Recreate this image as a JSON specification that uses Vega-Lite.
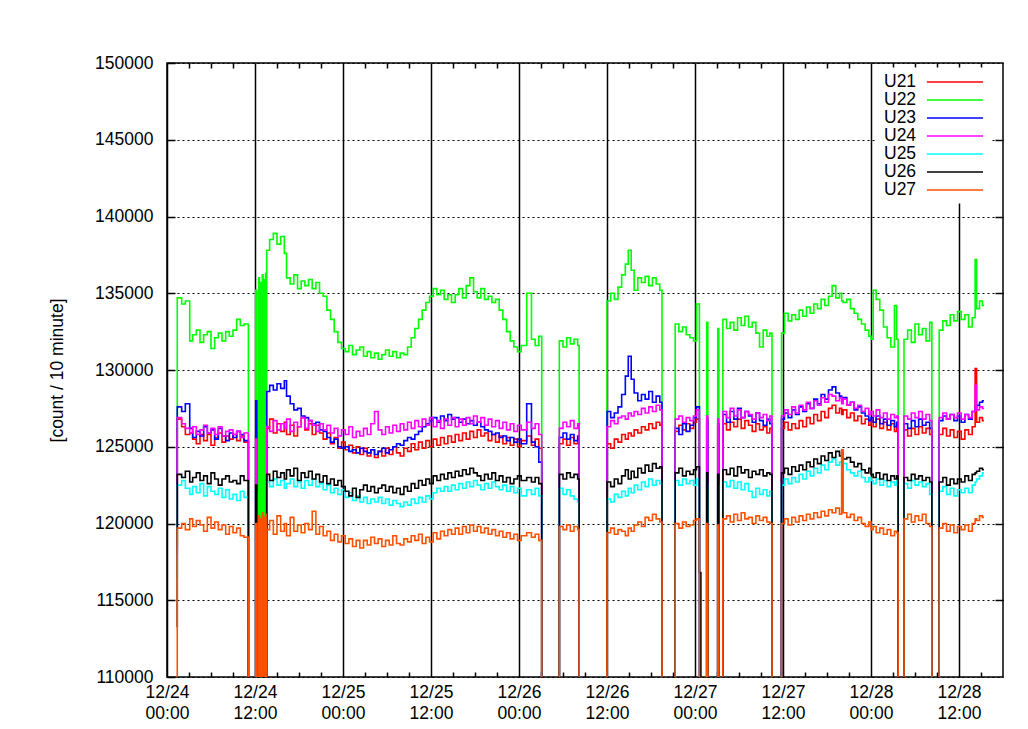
{
"$schema":"https://vega.github.io/schema/vega-lite/v6.json",
"width":836,"height":614,
"autosize":{"type":"none"},
"padding":{"left":167,"top":63,"right":25,"bottom":52},
"background":"white",
"config":{"font":"Liberation Sans","view":{"stroke":"black","strokeWidth":1.5},"axis":{"domain":false,"labelColor":"black","titleColor":"black","labelFontSize":17.5,"titleFontSize":17.5,"titleFontWeight":"normal"}},
"data":{"values":[
{"h":1.3,"U21":118500,"U22":118500,"U23":119700,"U24":118000,"U25":116500,"U26":113300,"U27":0},
{"h":1.4,"U21":126800,"U22":134700,"U23":127600,"U24":126900,"U25":122500,"U26":123200,"U27":119700},
{"h":2.0,"U21":126300,"U22":134300,"U23":127300,"U24":126500,"U25":122800,"U26":123000,"U27":120000},
{"h":2.5,"U21":125800,"U22":134500,"U23":127800,"U24":126200,"U25":122300,"U26":123400,"U27":119600},
{"h":3.1,"U21":125900,"U22":131900,"U23":126200,"U24":125900,"U25":121900,"U26":122700,"U27":120300},
{"h":3.5,"U21":125500,"U22":132300,"U23":125600,"U24":126300,"U25":122400,"U26":123000,"U27":119800},
{"h":4.0,"U21":125200,"U22":132600,"U23":126000,"U24":125800,"U25":122000,"U26":123300,"U27":120200},
{"h":4.5,"U21":125800,"U22":131800,"U23":125700,"U24":126100,"U25":122600,"U26":122800,"U27":119900},
{"h":5.0,"U21":125400,"U22":132300,"U23":126300,"U24":126400,"U25":121800,"U26":123100,"U27":119500},
{"h":5.5,"U21":125800,"U22":132500,"U23":125900,"U24":125900,"U25":122400,"U26":122600,"U27":120400},
{"h":6.0,"U21":125100,"U22":131400,"U23":126100,"U24":126200,"U25":122100,"U26":123300,"U27":119700},
{"h":6.5,"U21":125600,"U22":132100,"U23":125500,"U24":125800,"U25":121900,"U26":122900,"U27":120100},
{"h":7.0,"U21":125900,"U22":132400,"U23":126200,"U24":126300,"U25":122300,"U26":122500,"U27":119600},
{"h":7.5,"U21":125300,"U22":131900,"U23":125700,"U24":125700,"U25":121700,"U26":122900,"U27":119900},
{"h":8.0,"U21":125700,"U22":132500,"U23":125400,"U24":126000,"U25":122200,"U26":123100,"U27":119300},
{"h":8.5,"U21":125500,"U22":132200,"U23":125900,"U24":126100,"U25":121600,"U26":122700,"U27":119800},
{"h":9.0,"U21":125800,"U22":132600,"U23":125600,"U24":125800,"U25":121900,"U26":122800,"U27":119400},
{"h":9.5,"U21":125400,"U22":133300,"U23":126000,"U24":126000,"U25":121500,"U26":122600,"U27":119700},
{"h":10.0,"U21":125700,"U22":132900,"U23":125800,"U24":125600,"U25":122100,"U26":123100,"U27":119200},
{"h":10.5,"U21":125300,"U22":133000,"U23":125400,"U24":125900,"U25":121700,"U26":122800,"U27":119100},
{"h":11.1,"U21":0,"U22":0,"U23":0,"U24":0,"U25":0,"U26":0,"U27":0},
{"h":12.1,"U21":126000,"U22":135200,"U23":128000,"U24":125500,"U25":122000,"U26":122500,"U27":120000},
{"h":12.25,"U21":0,"U22":0,"U23":0,"U24":0,"U25":0,"U26":0,"U27":0},
{"h":12.5,"U21":0,"U22":136000,"U23":0,"U24":0,"U25":0,"U26":0,"U27":120500},
{"h":12.6,"U21":0,"U22":0,"U23":0,"U24":0,"U25":0,"U26":0,"U27":0},
{"h":12.75,"U21":0,"U22":135700,"U23":0,"U24":0,"U25":0,"U26":0,"U27":120300},
{"h":12.85,"U21":0,"U22":0,"U23":0,"U24":0,"U25":0,"U26":0,"U27":0},
{"h":13.0,"U21":0,"U22":136200,"U23":0,"U24":0,"U25":0,"U26":0,"U27":120700},
{"h":13.1,"U21":0,"U22":0,"U23":0,"U24":0,"U25":0,"U26":0,"U27":0},
{"h":13.25,"U21":0,"U22":135900,"U23":0,"U24":0,"U25":0,"U26":0,"U27":120400},
{"h":13.35,"U21":0,"U22":0,"U23":0,"U24":0,"U25":0,"U26":0,"U27":0},
{"h":13.45,"U21":0,"U22":136300,"U23":0,"U24":0,"U25":0,"U26":0,"U27":120600},
{"h":13.52,"U21":0,"U22":0,"U23":0,"U24":0,"U25":0,"U26":0,"U27":0},
{"h":13.6,"U21":126200,"U22":137800,"U23":128600,"U24":126300,"U25":122700,"U26":123200,"U27":119600},
{"h":14.0,"U21":126800,"U22":138500,"U23":129000,"U24":126000,"U25":122400,"U26":122800,"U27":120200},
{"h":14.5,"U21":125900,"U22":138900,"U23":128700,"U24":126700,"U25":122900,"U26":123400,"U27":119300},
{"h":15.0,"U21":126500,"U22":138200,"U23":129100,"U24":126100,"U25":122500,"U26":123000,"U27":120500},
{"h":15.5,"U21":126000,"U22":138700,"U23":128800,"U24":126500,"U25":122800,"U26":123300,"U27":119500},
{"h":16.0,"U21":126600,"U22":137600,"U23":129300,"U24":126200,"U25":122300,"U26":122900,"U27":120000},
{"h":16.3,"U21":125800,"U22":136000,"U23":128300,"U24":126800,"U25":122600,"U26":123500,"U27":119200},
{"h":16.8,"U21":126400,"U22":135600,"U23":127800,"U24":126000,"U25":122900,"U26":123100,"U27":120400},
{"h":17.3,"U21":125700,"U22":136200,"U23":127400,"U24":126600,"U25":122400,"U26":123600,"U27":119500},
{"h":17.8,"U21":126300,"U22":135300,"U23":127500,"U24":126300,"U25":122700,"U26":122800,"U27":119900},
{"h":18.3,"U21":126900,"U22":135800,"U23":127000,"U24":126900,"U25":122300,"U26":123300,"U27":119400},
{"h":18.8,"U21":126100,"U22":135500,"U23":126900,"U24":126200,"U25":122800,"U26":123000,"U27":120000},
{"h":19.3,"U21":126500,"U22":135900,"U23":126700,"U24":126700,"U25":122500,"U26":123400,"U27":119600},
{"h":19.8,"U21":125800,"U22":135300,"U23":126500,"U24":126400,"U25":122900,"U26":122900,"U27":120800},
{"h":20.3,"U21":126400,"U22":135700,"U23":126600,"U24":126000,"U25":122400,"U26":123200,"U27":119300},
{"h":20.8,"U21":125900,"U22":135000,"U23":126100,"U24":126500,"U25":122600,"U26":122700,"U27":119800},
{"h":21.3,"U21":125500,"U22":134800,"U23":126000,"U24":126100,"U25":122200,"U26":123100,"U27":119200},
{"h":21.8,"U21":125900,"U22":133900,"U23":125600,"U24":126400,"U25":122500,"U26":122600,"U27":119500},
{"h":22.3,"U21":125200,"U22":133300,"U23":125300,"U24":125900,"U25":122000,"U26":122900,"U27":118900},
{"h":22.8,"U21":125600,"U22":132500,"U23":125500,"U24":126200,"U25":122300,"U26":122500,"U27":119300},
{"h":23.3,"U21":124900,"U22":131800,"U23":125000,"U24":125700,"U25":121900,"U26":122800,"U27":118800},
{"h":23.8,"U21":125300,"U22":131400,"U23":124900,"U24":126100,"U25":122200,"U26":122400,"U27":119200},
{"h":24.3,"U21":124800,"U22":131200,"U23":125000,"U24":125800,"U25":121700,"U26":122100,"U27":118700},
{"h":24.8,"U21":125100,"U22":131600,"U23":124700,"U24":126300,"U25":122000,"U26":121800,"U27":119000},
{"h":25.3,"U21":124600,"U22":131000,"U23":124800,"U24":125600,"U25":121500,"U26":122300,"U27":118500},
{"h":25.8,"U21":125000,"U22":131300,"U23":124600,"U24":126000,"U25":121800,"U26":121700,"U27":118900},
{"h":26.3,"U21":124500,"U22":131500,"U23":124900,"U24":125700,"U25":121400,"U26":122200,"U27":118400},
{"h":26.8,"U21":124900,"U22":130900,"U23":124700,"U24":126200,"U25":121700,"U26":122500,"U27":118900},
{"h":27.3,"U21":124400,"U22":131200,"U23":124600,"U24":125800,"U25":121300,"U26":122100,"U27":118600},
{"h":27.8,"U21":124800,"U22":130800,"U23":124800,"U24":126500,"U25":121600,"U26":122400,"U27":119100},
{"h":28.3,"U21":124300,"U22":131100,"U23":124500,"U24":127300,"U25":121400,"U26":122000,"U27":118700},
{"h":28.8,"U21":124700,"U22":130700,"U23":124700,"U24":126100,"U25":121700,"U26":122300,"U27":119000},
{"h":29.3,"U21":124400,"U22":131000,"U23":124900,"U24":125800,"U25":121300,"U26":122500,"U27":118500},
{"h":29.8,"U21":124900,"U22":131300,"U23":124600,"U24":126300,"U25":121600,"U26":122100,"U27":118900},
{"h":30.3,"U21":124500,"U22":130900,"U23":124800,"U24":125900,"U25":121200,"U26":122400,"U27":118600},
{"h":30.8,"U21":125000,"U22":131200,"U23":125000,"U24":126400,"U25":121500,"U26":122000,"U27":119200},
{"h":31.3,"U21":124600,"U22":130800,"U23":125200,"U24":126000,"U25":121300,"U26":122300,"U27":118700},
{"h":31.8,"U21":124400,"U22":131100,"U23":125100,"U24":126500,"U25":121100,"U26":121900,"U27":118600},
{"h":32.3,"U21":124900,"U22":131000,"U23":125400,"U24":126100,"U25":121400,"U26":122400,"U27":119000},
{"h":32.8,"U21":124700,"U22":131500,"U23":125600,"U24":126600,"U25":121200,"U26":122100,"U27":118800},
{"h":33.3,"U21":125200,"U22":132100,"U23":125500,"U24":126200,"U25":121600,"U26":122600,"U27":119200},
{"h":33.8,"U21":124800,"U22":132700,"U23":125800,"U24":126700,"U25":121300,"U26":122300,"U27":118900},
{"h":34.3,"U21":125300,"U22":133300,"U23":126000,"U24":126300,"U25":121700,"U26":122800,"U27":119300},
{"h":34.8,"U21":124900,"U22":133900,"U23":126300,"U24":126800,"U25":121400,"U26":122500,"U27":118700},
{"h":35.3,"U21":125400,"U22":134400,"U23":126500,"U24":126400,"U25":121800,"U26":122900,"U27":119100},
{"h":35.8,"U21":125000,"U22":134800,"U23":126700,"U24":126900,"U25":121600,"U26":122600,"U27":118800},
{"h":36.3,"U21":125500,"U22":135300,"U23":126900,"U24":126300,"U25":122000,"U26":123100,"U27":119400},
{"h":36.8,"U21":125100,"U22":134900,"U23":126600,"U24":126700,"U25":122300,"U26":122800,"U27":119000},
{"h":37.3,"U21":125600,"U22":135200,"U23":127000,"U24":126200,"U25":122100,"U26":123200,"U27":119500},
{"h":37.8,"U21":125200,"U22":134600,"U23":126700,"U24":126800,"U25":122400,"U26":122900,"U27":119200},
{"h":38.3,"U21":125700,"U22":134900,"U23":127100,"U24":126400,"U25":122100,"U26":123300,"U27":119600},
{"h":38.8,"U21":125300,"U22":134400,"U23":126800,"U24":126900,"U25":122500,"U26":123000,"U27":119300},
{"h":39.3,"U21":125800,"U22":134900,"U23":126900,"U24":126300,"U25":122200,"U26":123400,"U27":119700},
{"h":39.8,"U21":125400,"U22":135300,"U23":126600,"U24":126800,"U25":122600,"U26":123100,"U27":119300},
{"h":40.3,"U21":125900,"U22":134700,"U23":126800,"U24":126400,"U25":122300,"U26":123500,"U27":119800},
{"h":40.8,"U21":125500,"U22":135500,"U23":126500,"U24":126900,"U25":122700,"U26":123200,"U27":119400},
{"h":41.3,"U21":126000,"U22":136000,"U23":126700,"U24":126500,"U25":122400,"U26":123600,"U27":119900},
{"h":41.8,"U21":125600,"U22":135100,"U23":126400,"U24":127000,"U25":122800,"U26":123300,"U27":119500},
{"h":42.3,"U21":126100,"U22":134700,"U23":126600,"U24":126600,"U25":122500,"U26":123100,"U27":119800},
{"h":42.8,"U21":125700,"U22":135300,"U23":126300,"U24":126900,"U25":122200,"U26":122800,"U27":119400},
{"h":43.3,"U21":125900,"U22":134600,"U23":126100,"U24":126400,"U25":122600,"U26":123200,"U27":119700},
{"h":43.8,"U21":125400,"U22":134800,"U23":126000,"U24":126800,"U25":122300,"U26":122900,"U27":119300},
{"h":44.3,"U21":125800,"U22":134400,"U23":125800,"U24":126300,"U25":122700,"U26":123300,"U27":119600},
{"h":44.8,"U21":125300,"U22":134600,"U23":125900,"U24":126700,"U25":122400,"U26":122800,"U27":119200},
{"h":45.3,"U21":125700,"U22":133900,"U23":125600,"U24":126200,"U25":122200,"U26":123100,"U27":119500},
{"h":45.8,"U21":125200,"U22":133300,"U23":125700,"U24":126600,"U25":122500,"U26":122700,"U27":119100},
{"h":46.3,"U21":125600,"U22":132500,"U23":125400,"U24":126100,"U25":122100,"U26":123000,"U27":119400},
{"h":46.8,"U21":125100,"U22":131900,"U23":125600,"U24":126500,"U25":122400,"U26":122600,"U27":119000},
{"h":47.3,"U21":125500,"U22":131500,"U23":125300,"U24":126000,"U25":122000,"U26":122900,"U27":119300},
{"h":47.8,"U21":125000,"U22":131200,"U23":125500,"U24":126400,"U25":122300,"U26":123100,"U27":118900},
{"h":48.3,"U21":125400,"U22":131600,"U23":125200,"U24":126100,"U25":121800,"U26":122800,"U27":119200},
{"h":49.05,"U21":125700,"U22":135000,"U23":127800,"U24":126600,"U25":122200,"U26":123000,"U27":119400},
{"h":49.7,"U21":125100,"U22":132000,"U23":125300,"U24":126200,"U25":121900,"U26":122700,"U27":119100},
{"h":50.2,"U21":125500,"U22":131600,"U23":125000,"U24":126500,"U25":122300,"U26":123000,"U27":119300},
{"h":50.7,"U21":124900,"U22":132200,"U23":124000,"U24":125800,"U25":121800,"U26":122600,"U27":118900},
{"h":51.1,"U21":0,"U22":0,"U23":0,"U24":0,"U25":0,"U26":0,"U27":0},
{"h":53.5,"U21":125200,"U22":131900,"U23":125600,"U24":126200,"U25":122300,"U26":123200,"U27":119800},
{"h":54.0,"U21":125500,"U22":131500,"U23":125900,"U24":126600,"U25":121900,"U26":122900,"U27":119600},
{"h":54.5,"U21":125100,"U22":132100,"U23":125500,"U24":126300,"U25":122200,"U26":123300,"U27":119900},
{"h":55.0,"U21":125600,"U22":131700,"U23":125800,"U24":126700,"U25":121800,"U26":123000,"U27":119500},
{"h":55.5,"U21":125200,"U22":132000,"U23":125400,"U24":126200,"U25":121600,"U26":123200,"U27":119800},
{"h":56.0,"U21":125400,"U22":131600,"U23":125700,"U24":126500,"U25":121400,"U26":122900,"U27":119600},
{"h":56.2,"U21":0,"U22":0,"U23":0,"U24":0,"U25":0,"U26":0,"U27":0},
{"h":60.0,"U21":125200,"U22":134500,"U23":127300,"U24":126300,"U25":121600,"U26":122700,"U27":119400},
{"h":60.5,"U21":124900,"U22":135000,"U23":126900,"U24":126700,"U25":121400,"U26":122400,"U27":119700},
{"h":61.0,"U21":125500,"U22":134600,"U23":127200,"U24":126500,"U25":121900,"U26":122900,"U27":119300},
{"h":61.5,"U21":125300,"U22":135400,"U23":127600,"U24":126900,"U25":121700,"U26":122600,"U27":119600},
{"h":62.0,"U21":125800,"U22":136200,"U23":128400,"U24":127000,"U25":122100,"U26":123100,"U27":119500},
{"h":62.5,"U21":125500,"U22":136900,"U23":129600,"U24":126800,"U25":121800,"U26":123500,"U27":119200},
{"h":62.9,"U21":125900,"U22":137800,"U23":130900,"U24":127200,"U25":122300,"U26":122900,"U27":119700},
{"h":63.3,"U21":125700,"U22":136500,"U23":129400,"U24":127000,"U25":122000,"U26":123400,"U27":119500},
{"h":63.7,"U21":126100,"U22":135200,"U23":128500,"U24":127300,"U25":122500,"U26":123000,"U27":119900},
{"h":64.2,"U21":125900,"U22":136000,"U23":128000,"U24":127100,"U25":122200,"U26":123600,"U27":120100},
{"h":64.7,"U21":126300,"U22":135700,"U23":128400,"U24":127500,"U25":122700,"U26":123300,"U27":119800},
{"h":65.2,"U21":126100,"U22":136100,"U23":128100,"U24":127200,"U25":122400,"U26":123800,"U27":120400},
{"h":65.7,"U21":126500,"U22":135500,"U23":128600,"U24":127600,"U25":122900,"U26":123400,"U27":120200},
{"h":66.2,"U21":126200,"U22":136000,"U23":127900,"U24":127300,"U25":122500,"U26":123900,"U27":120600},
{"h":66.7,"U21":126600,"U22":135600,"U23":128300,"U24":127700,"U25":122800,"U26":123600,"U27":120300},
{"h":67.2,"U21":126400,"U22":135200,"U23":127900,"U24":127400,"U25":122600,"U26":123700,"U27":120100},
{"h":67.5,"U21":0,"U22":0,"U23":0,"U24":0,"U25":0,"U26":0,"U27":0},
{"h":69.3,"U21":126000,"U22":133000,"U23":126200,"U24":126800,"U25":122800,"U26":123300,"U27":120000},
{"h":69.8,"U21":126400,"U22":132500,"U23":125800,"U24":127000,"U25":122500,"U26":123600,"U27":119700},
{"h":70.3,"U21":126100,"U22":132800,"U23":126500,"U24":126600,"U25":122900,"U26":123100,"U27":120100},
{"h":70.8,"U21":126500,"U22":132300,"U23":126000,"U24":126900,"U25":122600,"U26":123400,"U27":119800},
{"h":71.3,"U21":126200,"U22":132100,"U23":126400,"U24":126700,"U25":122800,"U26":123200,"U27":119900},
{"h":71.8,"U21":126600,"U22":131900,"U23":126900,"U24":127000,"U25":122500,"U26":123500,"U27":120200},
{"h":72.2,"U21":126800,"U22":134300,"U23":127600,"U24":127400,"U25":122900,"U26":123700,"U27":120300},
{"h":72.6,"U21":0,"U22":0,"U23":0,"U24":0,"U25":0,"U26":116800,"U27":0},
{"h":72.8,"U21":0,"U22":0,"U23":0,"U24":0,"U25":0,"U26":0,"U27":0},
{"h":73.6,"U21":126500,"U22":133100,"U23":126800,"U24":127000,"U25":122600,"U26":123300,"U27":120000},
{"h":73.75,"U21":0,"U22":0,"U23":0,"U24":0,"U25":0,"U26":0,"U27":0},
{"h":75.1,"U21":126300,"U22":132700,"U23":126500,"U24":126800,"U25":122500,"U26":123200,"U27":119900},
{"h":75.25,"U21":0,"U22":0,"U23":0,"U24":0,"U25":0,"U26":0,"U27":0},
{"h":75.8,"U21":126500,"U22":133300,"U23":127100,"U24":127300,"U25":122700,"U26":123500,"U27":120300},
{"h":76.3,"U21":126100,"U22":132700,"U23":126600,"U24":126900,"U25":122400,"U26":123200,"U27":120500},
{"h":76.8,"U21":126600,"U22":133100,"U23":127300,"U24":127500,"U25":122800,"U26":123600,"U27":120100},
{"h":77.3,"U21":126300,"U22":132600,"U23":126800,"U24":127000,"U25":122300,"U26":123100,"U27":120600},
{"h":77.8,"U21":126800,"U22":133400,"U23":127500,"U24":127400,"U25":122700,"U26":123700,"U27":120200},
{"h":78.3,"U21":126200,"U22":132900,"U23":126900,"U24":126900,"U25":122200,"U26":123300,"U27":120700},
{"h":78.8,"U21":126700,"U22":133500,"U23":127300,"U24":127300,"U25":122600,"U26":123500,"U27":120300},
{"h":79.3,"U21":126400,"U22":132800,"U23":127000,"U24":127100,"U25":122100,"U26":123000,"U27":120400},
{"h":79.8,"U21":126000,"U22":133100,"U23":126600,"U24":126800,"U25":121700,"U26":123400,"U27":120000},
{"h":80.3,"U21":126500,"U22":132400,"U23":127200,"U24":127200,"U25":122300,"U26":123200,"U27":120500},
{"h":80.8,"U21":126100,"U22":131500,"U23":126700,"U24":126900,"U25":121900,"U26":123500,"U27":120200},
{"h":81.3,"U21":126300,"U22":132600,"U23":126400,"U24":127100,"U25":122200,"U26":123100,"U27":120400},
{"h":81.8,"U21":125900,"U22":132200,"U23":126800,"U24":126700,"U25":121800,"U26":123300,"U27":120100},
{"h":82.2,"U21":126200,"U22":132400,"U23":126500,"U24":127000,"U25":122100,"U26":123200,"U27":120000},
{"h":82.5,"U21":0,"U22":0,"U23":0,"U24":0,"U25":0,"U26":0,"U27":0},
{"h":83.8,"U21":126200,"U22":132400,"U23":126800,"U24":127000,"U25":122500,"U26":123300,"U27":120000},
{"h":84.2,"U21":126600,"U22":133700,"U23":127200,"U24":127400,"U25":122900,"U26":123600,"U27":120300},
{"h":84.7,"U21":126100,"U22":133200,"U23":126900,"U24":127100,"U25":122600,"U26":123200,"U27":119900},
{"h":85.2,"U21":126500,"U22":133600,"U23":127400,"U24":127600,"U25":123000,"U26":123700,"U27":120400},
{"h":85.7,"U21":126200,"U22":133300,"U23":127100,"U24":127200,"U25":122700,"U26":123400,"U27":120100},
{"h":86.2,"U21":126700,"U22":133900,"U23":127600,"U24":127700,"U25":123200,"U26":123800,"U27":120500},
{"h":86.7,"U21":126300,"U22":133500,"U23":127300,"U24":127400,"U25":122900,"U26":123500,"U27":120200},
{"h":87.2,"U21":126900,"U22":134100,"U23":127800,"U24":127900,"U25":123400,"U26":124000,"U27":120600},
{"h":87.7,"U21":126500,"U22":133700,"U23":127500,"U24":127500,"U25":123100,"U26":123700,"U27":120300},
{"h":88.2,"U21":127100,"U22":134300,"U23":128100,"U24":128000,"U25":123600,"U26":124200,"U27":120700},
{"h":88.7,"U21":126700,"U22":134000,"U23":127800,"U24":127700,"U25":123300,"U26":123900,"U27":120400},
{"h":89.2,"U21":127300,"U22":134600,"U23":128400,"U24":128200,"U25":123800,"U26":124400,"U27":120800},
{"h":89.7,"U21":126900,"U22":134200,"U23":128100,"U24":127900,"U25":123500,"U26":124100,"U27":120500},
{"h":90.2,"U21":127500,"U22":134800,"U23":128700,"U24":128400,"U25":124000,"U26":124600,"U27":120900},
{"h":90.7,"U21":127700,"U22":135500,"U23":128900,"U24":128300,"U25":124200,"U26":124300,"U27":120700},
{"h":91.2,"U21":127200,"U22":134700,"U23":128500,"U24":128000,"U25":123800,"U26":124700,"U27":121000},
{"h":91.7,"U21":127500,"U22":135000,"U23":128300,"U24":128200,"U25":124000,"U26":124400,"U27":120600},
{"h":92.0,"U21":127100,"U22":134500,"U23":128000,"U24":127800,"U25":123700,"U26":124600,"U27":124800},
{"h":92.2,"U21":127400,"U22":134400,"U23":128200,"U24":128100,"U25":123900,"U26":124200,"U27":120700},
{"h":92.7,"U21":126900,"U22":134600,"U23":127700,"U24":127700,"U25":123500,"U26":124300,"U27":120400},
{"h":93.2,"U21":127200,"U22":134000,"U23":127900,"U24":127900,"U25":123300,"U26":124000,"U27":120600},
{"h":93.7,"U21":126700,"U22":133700,"U23":127400,"U24":127500,"U25":123100,"U26":123700,"U27":120200},
{"h":94.2,"U21":127000,"U22":133300,"U23":127600,"U24":127700,"U25":123400,"U26":123900,"U27":120400},
{"h":94.7,"U21":126500,"U22":133000,"U23":127200,"U24":127300,"U25":123000,"U26":123500,"U27":120000},
{"h":95.2,"U21":126800,"U22":132600,"U23":127000,"U24":127500,"U25":122700,"U26":123300,"U27":119800},
{"h":95.7,"U21":126400,"U22":132200,"U23":126700,"U24":127100,"U25":123000,"U26":123600,"U27":120100},
{"h":96.0,"U21":126700,"U22":132000,"U23":126900,"U24":127300,"U25":122800,"U26":123200,"U27":119600},
{"h":96.3,"U21":126300,"U22":135200,"U23":126600,"U24":127000,"U25":122600,"U26":123000,"U27":119800},
{"h":96.7,"U21":126800,"U22":134600,"U23":127000,"U24":127400,"U25":122900,"U26":123300,"U27":119400},
{"h":97.2,"U21":126200,"U22":133900,"U23":126500,"U24":126900,"U25":122500,"U26":122900,"U27":119700},
{"h":97.7,"U21":126600,"U22":132800,"U23":126800,"U24":127200,"U25":122800,"U26":123200,"U27":119300},
{"h":98.2,"U21":126100,"U22":132100,"U23":126400,"U24":126800,"U25":122400,"U26":122800,"U27":119600},
{"h":98.7,"U21":126500,"U22":131500,"U23":126700,"U24":127100,"U25":122700,"U26":123100,"U27":119200},
{"h":99.2,"U21":126000,"U22":134200,"U23":126300,"U24":126900,"U25":122500,"U26":122900,"U27":119500},
{"h":99.5,"U21":126300,"U22":132000,"U23":126600,"U24":127000,"U25":122800,"U26":123100,"U27":119400},
{"h":99.7,"U21":0,"U22":0,"U23":0,"U24":0,"U25":0,"U26":0,"U27":0},
{"h":100.5,"U21":126100,"U22":132000,"U23":126500,"U24":127000,"U25":122600,"U26":123000,"U27":120300},
{"h":101.0,"U21":125700,"U22":132600,"U23":126200,"U24":126800,"U25":122300,"U26":122800,"U27":120600},
{"h":101.5,"U21":126200,"U22":131800,"U23":126700,"U24":127200,"U25":122800,"U26":123200,"U27":120100},
{"h":102.0,"U21":125800,"U22":133000,"U23":126300,"U24":126900,"U25":122500,"U26":122900,"U27":120500},
{"h":102.5,"U21":126300,"U22":132300,"U23":126800,"U24":127300,"U25":122700,"U26":123100,"U27":120200},
{"h":103.0,"U21":125900,"U22":132700,"U23":126400,"U24":126800,"U25":122400,"U26":122800,"U27":120600},
{"h":103.5,"U21":126200,"U22":131900,"U23":126600,"U24":127100,"U25":122600,"U26":123000,"U27":120000},
{"h":104.0,"U21":125800,"U22":133100,"U23":126200,"U24":126700,"U25":121900,"U26":122700,"U27":119800},
{"h":104.3,"U21":0,"U22":0,"U23":0,"U24":0,"U25":0,"U26":0,"U27":0},
{"h":105.3,"U21":125800,"U22":132600,"U23":126700,"U24":126900,"U25":122100,"U26":122700,"U27":119700},
{"h":105.8,"U21":126200,"U22":133200,"U23":127000,"U24":127200,"U25":122400,"U26":123000,"U27":120000},
{"h":106.3,"U21":125700,"U22":132900,"U23":126800,"U24":126800,"U25":121900,"U26":122500,"U27":119500},
{"h":106.8,"U21":126100,"U22":133600,"U23":127100,"U24":127100,"U25":122300,"U26":122900,"U27":119900},
{"h":107.3,"U21":125600,"U22":133200,"U23":126700,"U24":126900,"U25":121800,"U26":122600,"U27":119400},
{"h":107.8,"U21":126000,"U22":133800,"U23":127000,"U24":127200,"U25":122200,"U26":122900,"U27":119800},
{"h":108.3,"U21":125500,"U22":133300,"U23":126600,"U24":126800,"U25":122000,"U26":122700,"U27":119600},
{"h":108.8,"U21":126100,"U22":133600,"U23":127100,"U24":127100,"U25":122300,"U26":123100,"U27":119900},
{"h":109.3,"U21":125800,"U22":132800,"U23":126800,"U24":126900,"U25":122000,"U26":122800,"U27":119500},
{"h":109.8,"U21":126300,"U22":133400,"U23":127300,"U24":127300,"U25":122500,"U26":123200,"U27":120000},
{"h":110.2,"U21":130100,"U22":137200,"U23":127600,"U24":129000,"U25":122700,"U26":123300,"U27":120300},
{"h":110.4,"U21":126600,"U22":134000,"U23":127700,"U24":127400,"U25":122900,"U26":123400,"U27":120200},
{"h":110.8,"U21":126900,"U22":134500,"U23":127900,"U24":127600,"U25":123100,"U26":123600,"U27":120500},
{"h":111.2,"U21":126700,"U22":134200,"U23":128000,"U24":127500,"U25":123300,"U26":123500,"U27":120400},
{"h":111.4,"U21":126700,"U22":134200,"U23":128000,"U24":127500,"U25":123300,"U26":123500,"U27":120400}
]},
"transform":[{"fold":["U21","U22","U23","U24","U25","U26","U27"],"as":["series","count"]}],
"resolve":{"axis":{"x":"independent","y":"independent"}},
"layer":[
{"mark":{"type":"line","opacity":0},
 "encoding":{
  "x":{"field":"h","type":"quantitative","scale":{"domain":[0,114],"nice":false,"zero":false},
       "axis":{"orient":"top","values":[3,6,9,15,18,21,27,30,33,39,42,45,51,54,57,63,66,69,75,78,81,87,90,93,99,102,105,111],"labels":false,"grid":false,"ticks":true,"tickSize":-5,"tickWidth":1.5,"tickColor":"black","title":null}},
  "y":{"field":"count","type":"quantitative","scale":{"domain":[110000,150000],"nice":false,"zero":false},
       "axis":{"orient":"right","values":[115000,120000,125000,130000,135000,140000,145000],"labels":false,"grid":false,"ticks":true,"tickSize":-8,"tickWidth":1.5,"tickColor":"black","title":null}},
  "detail":{"field":"series"}}},
{"mark":{"type":"line","opacity":0},
 "encoding":{
  "x":{"field":"h","type":"quantitative",
       "axis":{"orient":"bottom","values":[3,6,9,15,18,21,27,30,33,39,42,45,51,54,57,63,66,69,75,78,81,87,90,93,99,102,105,111],"labels":false,"grid":false,"ticks":true,"tickSize":-5,"tickWidth":1.5,"tickColor":"black","title":null}},
  "y":{"field":"count","type":"quantitative","axis":null},
  "detail":{"field":"series"}}},
{"mark":{"type":"line","interpolate":"step-after","strokeWidth":1.6,"clip":true},
 "encoding":{
  "x":{"field":"h","type":"quantitative",
       "axis":{"orient":"bottom","values":[0,12,24,36,48,60,72,84,96,108],"grid":true,"gridColor":"black","gridWidth":1.5,"gridOpacity":1,"ticks":false,"labelPadding":6,"labelLineHeight":21,"labelBaseline":"top","labelAlign":"center","labelFlush":false,"labelOverlap":false,
               "labelExpr":"['12/' + (24 + floor(datum.value/24)), (datum.value % 24 == 0 ? '00:00' : '12:00')]","title":null}},
  "y":{"field":"count","type":"quantitative",
       "axis":{"orient":"left","values":[110000,115000,120000,125000,130000,135000,140000,145000,150000],"format":"d","grid":true,"gridColor":"black","gridDash":[2,3],"gridWidth":1.2,"gridOpacity":1,"ticks":true,"tickSize":-8,"tickWidth":1.5,"tickColor":"black","labelPadding":22,"labelFlush":false,"labelOverlap":false,
               "title":"[count / 10 minute]","titleX":-110,"titleY":307,"titleAngle":270,"titleAlign":"center","titleBaseline":"middle"}},
  "color":{"field":"series","type":"nominal",
       "scale":{"domain":["U21","U22","U23","U24","U25","U26","U27"],"range":["#ff0000","#00ff00","#0000ff","#ff00ff","#00ffff","#000000","#ff5000"]},
       "legend":{"orient":"none","legendX":708,"legendY":4.5,"padding":5,"fillColor":"white","strokeColor":null,"title":null,"symbolType":"M-3.3,0H3.3","symbolSize":289,"symbolStrokeWidth":1.5,"symbolFillColor":"transparent","rowPadding":0,"labelFontSize":17.5,"labelColor":"black","labelOffset":-80.5,"symbolOffset":65.5,"zindex":2}}}}
]
}
